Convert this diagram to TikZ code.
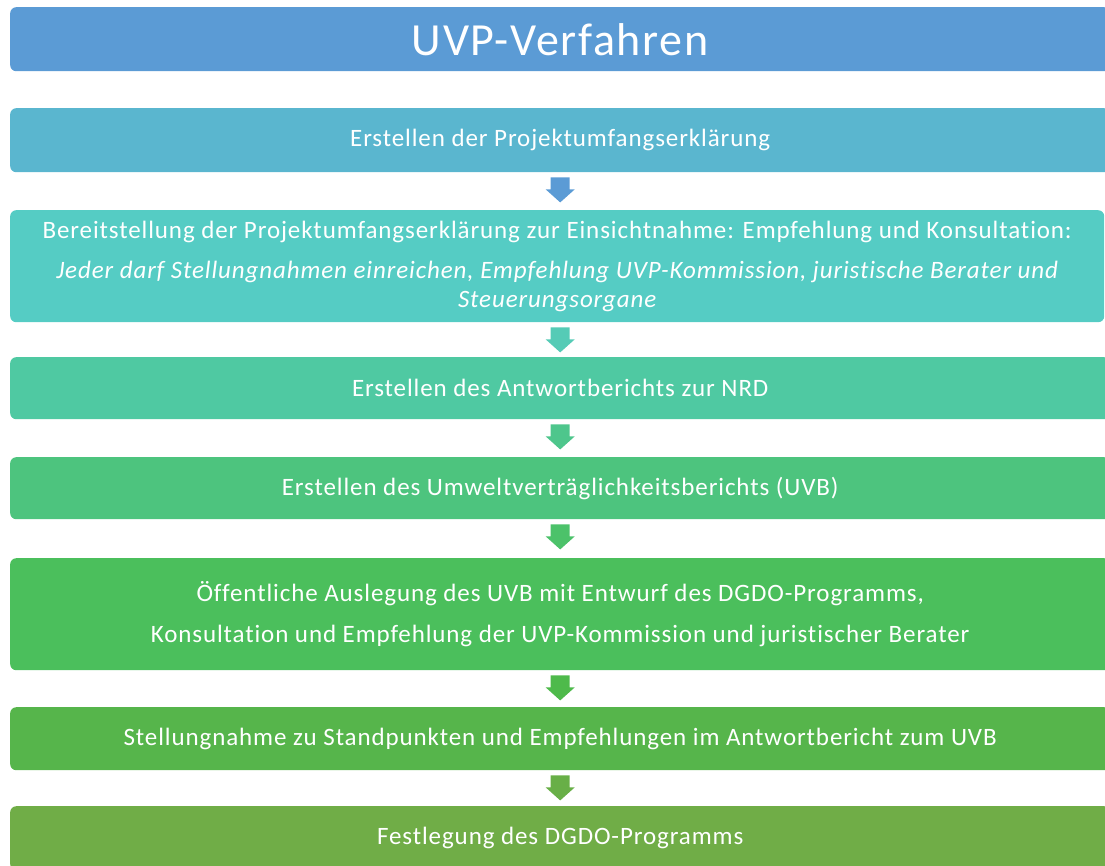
\documentclass[tikz,border=0pt]{standalone}
\usepackage{fontspec}
\setmainfont{Carlito}
\newfontfamily\stagefont{Carlito}[LetterSpace=3.6, Ligatures=NoCommon]
\usetikzlibrary{calc}

\definecolor{headblue}{HTML}{5B9BD5}
\definecolor{sA}{HTML}{5AB6CF}
\definecolor{sB}{HTML}{55CCC4}
\definecolor{sC}{HTML}{4FC9A2}
\definecolor{sD}{HTML}{4DC47E}
\definecolor{sE}{HTML}{4BBF5C}
\definecolor{sF}{HTML}{56B54B}
\definecolor{sG}{HTML}{70AD47}
\definecolor{aB}{HTML}{55CBB6}
\definecolor{aC}{HTML}{4EC68C}
\definecolor{aD}{HTML}{4CC26A}
\definecolor{aE}{HTML}{4EBA4B}
\definecolor{aF}{HTML}{68AF47}

\tikzset{
  stage/.style={rounded corners=6pt, inner sep=0pt, text=white, align=center,
    anchor=north west, minimum width=1100pt,
    font=\stagefont\fontsize{25}{29}\selectfont},
}

% block arrow between two stages, centred on the heading
\newcommand\flowarrow[3]{%
  \fill[#3] ($(#1.south -| head.south)+(-9.5,-5)$) -- ++(19,0) -- ++(0,-12)
    -- ++(5,0) -- ++(-14.5,-13) -- ++(-14.5,13) -- ++(5,0) -- cycle;}

\begin{document}
\begin{tikzpicture}[x=1pt,y=1pt]
\useasboundingbox (0,0) rectangle (1105,-865);
\begin{scope}
\clip (0,0) rectangle (1105,-865);

\node[stage, fill=headblue, minimum height=64pt,
  font=\stagefont\fontsize{46}{50}\selectfont] (head) at (10,-7) {UVP-Verfahren};

\node[stage, fill=sA, minimum height=64pt] (s1) at (10,-108)
  {Erstellen der Projektumfangserklärung};

\node[stage, fill=sB, minimum height=112pt, minimum width=1094pt] (s2) at (10,-210)
  {Bereitstellung der Projektumfangserklärung zur Einsichtnahme: Empfehlung und Konsultation:\\[11pt]
   \itshape Jeder darf Stellungnahmen einreichen, Empfehlung UVP-Kommission, juristische Berater und\\
   \itshape Steuerungsorgane};

\node[stage, fill=sC, minimum height=62pt] (s3) at (10,-357)
  {Erstellen des Antwortberichts zur NRD};

\node[stage, fill=sD, minimum height=62pt] (s4) at (10,-457)
  {Erstellen des Umweltverträglichkeitsberichts (UVB)};

\node[stage, fill=sE, minimum height=112pt] (s5) at (10,-558)
  {Öffentliche Auslegung des UVB mit Entwurf des DGDO-Programms,\\[12pt]
   Konsultation und Empfehlung der UVP-Kommission und juristischer Berater};

\node[stage, fill=sF, minimum height=63pt] (s6) at (10,-707)
  {Stellungnahme zu Standpunkten und Empfehlungen im Antwortbericht zum UVB};

\node[stage, fill=sG, minimum height=64pt] (s7) at (10,-806)
  {Festlegung des DGDO-Programms};

\flowarrow{s1}{s2}{headblue}
\flowarrow{s2}{s3}{aB}
\flowarrow{s3}{s4}{aC}
\flowarrow{s4}{s5}{aD}
\flowarrow{s5}{s6}{aE}
\flowarrow{s6}{s7}{aF}
\end{scope}
\end{tikzpicture}
\end{document}
